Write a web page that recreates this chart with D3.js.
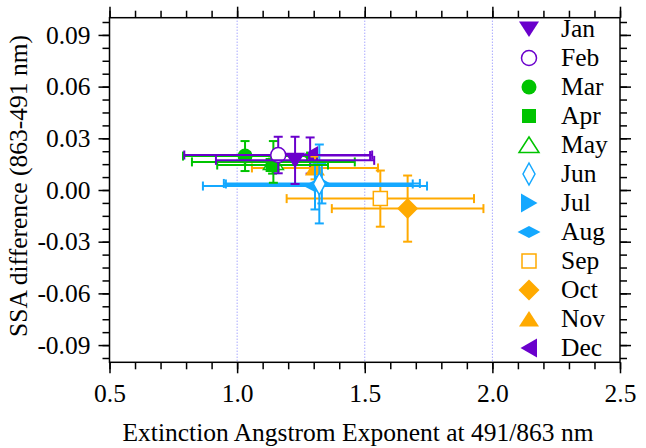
<!DOCTYPE html>
<html>
<head>
<meta charset="utf-8">
<script src="https://cdn.jsdelivr.net/npm/d3@7"></script>
<style>
  body { margin: 0; background: #fff; }
  text { font-family: "Liberation Serif", "Times New Roman", serif; fill: #000; }
</style>
</head>
<body>
<script>
// monthly means with error bars
var months = ["Jan","Feb","Mar","Apr","May","Jun","Jul","Aug","Sep","Oct","Nov","Dec"];
var angstrom    = [1.227, 1.161, 1.031, 1.139, 1.142, 1.322, 1.332, 1.305, 1.561, 1.668, 1.305, 1.286];
var angstromErr = [0.310, 0.368, 0.243, 0.217, 0.319, 0.366, 0.384, 0.439, 0.367, 0.297, 0.247, 0.235];
var ssaDiff     = [0.0172, 0.0203, 0.0197, 0.0145, 0.0163, 0.0035, 0.0038, 0.0023, -0.0050, -0.0108, 0.0128, 0.0200];
var ssaErr      = [0.0137, 0.0106, 0.0087, 0.0050, 0.0121, 0.0229, 0.0116, 0.0136, 0.0163, 0.0192, 0.0066, 0.0105];
var markers = ["triDown","circle","circle","square","triUp","diamondTall","triRight","diamondWide","square","diamond","triUp","triLeft"];
var filled  = [true, false, true, true, false, false, true, true, false, true, true, true];

var xTicks = [0.5, 1.0, 1.5, 2.0, 2.5];
var yTicks = [-0.09, -0.06, -0.03, 0.00, 0.03, 0.06, 0.09];
var refLines = [1.0, 1.5, 2.0];

var purple = "#6a00cc", green = "#00c400", blue = "#14a8ff", orange = "#ffaa00";
var colors = [purple, purple, green, green, green, blue, blue, blue, orange, orange, orange, purple];

var width = 646, height = 448;
var pLeft = 109.5, pRight = 620, pTop = 17.7, pBottom = 362.3;
var fontSize = "25.5px";

var x = d3.scaleLinear().domain([0.5, 2.5]).range([pLeft, pRight]);
var y = d3.scaleLinear().domain([-0.1, 0.1]).range([pBottom, pTop]);

var svg = d3.select("body").append("svg")
    .attr("width", width)
    .attr("height", height);

// dotted reference lines
svg.selectAll(".ref")
    .data(refLines)
    .enter().append("line")
    .attr("x1", d => x(d)).attr("x2", d => x(d))
    .attr("y1", pTop).attr("y2", pBottom)
    .attr("stroke", "#8080ff")
    .attr("stroke-width", 1)
    .attr("stroke-dasharray", "1,2");

// axes
var xMinor = d3.range(5, 26).map(d => d / 10);
var yMinor = d3.range(-13, 14).map(d => d * 0.0075);

function styleAxis(g) {
    g.select(".domain").remove();
    g.attr("font-family", null).attr("font-size", null);
    g.selectAll("line").attr("stroke", "#000").attr("stroke-width", 1.5);
    g.selectAll("text").style("font-family", '"Liberation Serif", serif').style("font-size", fontSize);
}

svg.append("g").attr("transform", "translate(0," + pBottom + ")")
    .call(d3.axisBottom(x).tickValues(xMinor).tickSize(7).tickFormat(""))
    .call(styleAxis);
svg.append("g").attr("transform", "translate(0," + pBottom + ")")
    .call(d3.axisBottom(x).tickValues(xTicks).tickSize(11).tickPadding(11).tickFormat(d => d.toFixed(1)))
    .call(styleAxis);
svg.append("g").attr("transform", "translate(0," + pTop + ")")
    .call(d3.axisTop(x).tickValues(xMinor).tickSize(7).tickFormat(""))
    .call(styleAxis);
svg.append("g").attr("transform", "translate(0," + pTop + ")")
    .call(d3.axisTop(x).tickValues(xTicks).tickSize(11).tickFormat(""))
    .call(styleAxis);

svg.append("g").attr("transform", "translate(" + pLeft + ",0)")
    .call(d3.axisLeft(y).tickValues(yMinor).tickSize(7).tickFormat(""))
    .call(styleAxis);
svg.append("g").attr("transform", "translate(" + pLeft + ",0)")
    .call(d3.axisLeft(y).tickValues(yTicks).tickSize(11).tickPadding(8).tickFormat(d => d.toFixed(2)))
    .call(styleAxis);
svg.append("g").attr("transform", "translate(" + pRight + ",0)")
    .call(d3.axisRight(y).tickValues(yMinor).tickSize(7).tickFormat(""))
    .call(styleAxis);
svg.append("g").attr("transform", "translate(" + pRight + ",0)")
    .call(d3.axisRight(y).tickValues(yTicks).tickSize(11).tickFormat(""))
    .call(styleAxis);

svg.append("rect")
    .attr("x", pLeft).attr("y", pTop)
    .attr("width", pRight - pLeft).attr("height", pBottom - pTop)
    .attr("fill", "none").attr("stroke", "#000").attr("stroke-width", 1.5);

// axis titles
svg.append("text")
    .attr("x", 358).attr("y", 441)
    .attr("text-anchor", "middle")
    .style("font-size", fontSize)
    .text("Extinction Angstrom Exponent at 491/863 nm");

svg.append("text")
    .attr("transform", "translate(27,186) rotate(-90)")
    .attr("text-anchor", "middle")
    .style("font-size", fontSize)
    .text("SSA difference (863-491 nm)");

// marker shapes
function shape(type) {
    switch (type) {
        case "triDown": return "M-10,-7.5L10,-7.5L0,8Z";
        case "triUp": return "M-10,7.5L10,7.5L0,-8Z";
        case "triRight": return "M-8,-9.5L8.5,0L-8,9.5Z";
        case "triLeft": return "M8,-9.5L-8.5,0L8,9.5Z";
        case "square": return "M-7,-7H7V7H-7Z";
        case "diamond": return "M0,-10.5L10.5,0L0,10.5L-10.5,0Z";
        case "diamondTall": return "M0,-11L6,0L0,11L-6,0Z";
        case "diamondWide": return "M0,-6L11.5,0L0,6L-11.5,0Z";
        case "circle": return "M-7.5,0A7.5,7.5 0 1,0 7.5,0A7.5,7.5 0 1,0 -7.5,0Z";
    }
}

function drawMarker(g, i) {
    g.append("path")
        .attr("d", shape(markers[i]))
        .attr("fill", filled[i] ? colors[i] : "#fff")
        .attr("stroke", colors[i])
        .attr("stroke-width", filled[i] ? 0 : 1.5);
}

// points with error bars, Dec drawn first
var order = d3.range(months.length).reverse();
var cap = 4.5;

order.forEach(function(i) {
    var g = svg.append("g");
    var cx = x(angstrom[i]), cy = y(ssaDiff[i]);
    var x0 = x(angstrom[i] - angstromErr[i]), x1 = x(angstrom[i] + angstromErr[i]);
    var y0 = y(ssaDiff[i] - ssaErr[i]), y1 = y(ssaDiff[i] + ssaErr[i]);
    var segs = [
        [x0, cy, x1, cy], [x0, cy - cap, x0, cy + cap], [x1, cy - cap, x1, cy + cap],
        [cx, y0, cx, y1], [cx - cap, y0, cx + cap, y0], [cx - cap, y1, cx + cap, y1]
    ];
    g.selectAll("line")
        .data(segs)
        .enter().append("line")
        .attr("x1", d => d[0]).attr("y1", d => d[1])
        .attr("x2", d => d[2]).attr("y2", d => d[3])
        .attr("stroke", colors[i])
        .attr("stroke-width", 2);
    var m = g.append("g").attr("transform", "translate(" + cx + "," + cy + ")");
    drawMarker(m, i);
});

// legend
var legend = svg.append("g");
months.forEach(function(name, i) {
    var ly = 29 + 29 * i;
    var m = legend.append("g").attr("transform", "translate(529," + ly + ")");
    drawMarker(m, i);
    legend.append("text")
        .attr("x", 561).attr("y", ly + 8)
        .style("font-size", fontSize)
        .text(name);
});
</script>
</body>
</html>
